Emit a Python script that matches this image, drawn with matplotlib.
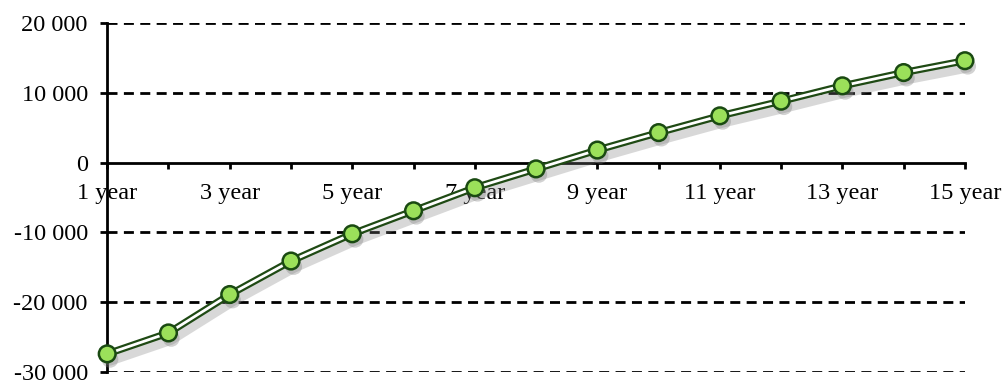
import numpy as np
import matplotlib.pyplot as plt
import matplotlib.patheffects as pe

# --- Data ---
years = list(range(1, 16))
values = [-27400, -24400, -18900, -14100, -10200, -6900, -3600, -900,
          1800, 4300, 6700, 8800, 11000, 12900, 14600]
yticks = [-30000, -20000, -10000, 0, 10000, 20000]

plt.rcParams['font.family'] = ['Liberation Serif', 'DejaVu Serif']

fig = plt.figure(figsize=(10.02, 3.81), dpi=100)
ax = fig.add_axes([0.107, 0.0236, 0.856, 0.916])

# --- dashed grid lines ---
for v in yticks:
    if v != 0:
        ax.axhline(v, color='black', lw=2.0, ls=(0, (3.6, 2.3)), zorder=1)

# --- line with shadow and double stroke ---
shadow = [pe.SimpleLineShadow(offset=(2, -5), shadow_color='gray',
                              alpha=0.3, linewidth=7), pe.Normal()]
ax.plot(years, values, color='#1f4a14', lw=5.2, zorder=3,
        path_effects=shadow, solid_capstyle='round', clip_on=False)
ax.plot(years, values, color='white', lw=2.0, zorder=4, clip_on=False)
ax.plot(years, values, ls='none', marker='o', ms=12,
        markerfacecolor='#9be05a', markeredgecolor='#1a4a12', mew=1.8,
        zorder=5, clip_on=False,
        path_effects=[pe.SimplePatchShadow(offset=(2, -4), shadow_rgbFace='gray',
                                           alpha=0.35), pe.Normal()])

# --- axes ---
ax.set_xlim(1, 15)
ax.set_ylim(-30000, 20000)
ax.spines['top'].set_visible(False)
ax.spines['right'].set_visible(False)
ax.spines['bottom'].set_position(('data', 0))
ax.spines['bottom'].set_linewidth(2.0)
ax.spines['left'].set_linewidth(2.0)

ax.set_xticks(years)
ax.set_xticklabels([f'{y} year' if y % 2 == 1 else '' for y in years])
ax.set_yticks(yticks)
ax.set_yticklabels([f'{v:,}'.replace(',', ' ') for v in yticks])
ax.tick_params(axis='x', direction='out', length=4, width=2.0,
               labelsize=17.5, pad=11)
ax.tick_params(axis='y', direction='out', length=5, width=2.0,
               labelsize=17.5, pad=9)

plt.savefig('out.png', dpi=100)
